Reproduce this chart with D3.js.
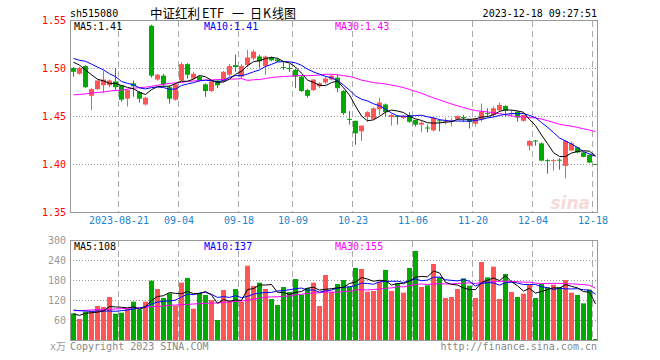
<!DOCTYPE html>
<html><head><meta charset="utf-8">
<script src="https://cdn.jsdelivr.net/npm/d3@7/dist/d3.min.js"></script>
<style>body{margin:0;background:#fff}text{font-family:"DejaVu Sans Mono",monospace}</style>
</head><body><svg id="c" width="660" height="360"></svg>
<script>
// ---------- data ----------
const dates = ["2023-08-09","2023-08-10","2023-08-11","2023-08-14","2023-08-15","2023-08-16","2023-08-17","2023-08-18","2023-08-21","2023-08-22","2023-08-23","2023-08-24","2023-08-25","2023-08-28","2023-08-29","2023-08-30","2023-08-31",
"2023-09-01","2023-09-04","2023-09-05","2023-09-06","2023-09-07","2023-09-08","2023-09-11","2023-09-12","2023-09-13","2023-09-14","2023-09-15","2023-09-18","2023-09-19","2023-09-20","2023-09-21","2023-09-22","2023-09-25","2023-09-26","2023-09-27","2023-09-28",
"2023-10-09","2023-10-10","2023-10-11","2023-10-12","2023-10-13","2023-10-16","2023-10-17","2023-10-18","2023-10-19","2023-10-20","2023-10-23","2023-10-24","2023-10-25","2023-10-26","2023-10-27","2023-10-30","2023-10-31",
"2023-11-01","2023-11-02","2023-11-03","2023-11-06","2023-11-07","2023-11-08","2023-11-09","2023-11-10","2023-11-13","2023-11-14","2023-11-15","2023-11-16","2023-11-17","2023-11-20","2023-11-21","2023-11-22","2023-11-23","2023-11-24","2023-11-27","2023-11-28","2023-11-29","2023-11-30",
"2023-12-01","2023-12-04","2023-12-05","2023-12-06","2023-12-07","2023-12-08","2023-12-11","2023-12-12","2023-12-13","2023-12-14","2023-12-15","2023-12-18"];
const open  = [1.500,1.494,1.502,1.471,1.478,1.482,1.482,1.486,1.482,1.468,1.484,1.475,1.462,1.544,1.488,1.492,1.480,1.467,1.487,1.504,1.489,1.491,1.483,1.476,1.487,1.486,1.493,1.503,1.491,1.503,1.510,1.512,1.502,1.511,1.509,1.501,1.500,1.498,1.491,1.477,1.477,1.481,1.485,1.488,1.490,1.476,1.447,1.445,1.434,1.449,1.447,1.457,1.462,1.449,1.450,1.448,1.451,1.446,1.441,1.438,1.435,1.4455,1.4445,1.4445,1.447,1.449,1.4465,1.442,1.4465,1.453,1.451,1.456,1.4605,1.4525,1.4545,1.445,1.419,1.4245,1.4215,1.404,1.4035,1.4045,1.398,1.414,1.4175,1.412,1.4095,1.400];
const high  = [1.501,1.501,1.503,1.479,1.487,1.497,1.488,1.500,1.482,1.478,1.487,1.476,1.470,1.545,1.494,1.494,1.482,1.484,1.506,1.505,1.496,1.492,1.484,1.486,1.487,1.497,1.504,1.514,1.504,1.519,1.519,1.514,1.513,1.512,1.510,1.507,1.504,1.499,1.492,1.478,1.488,1.485,1.491,1.493,1.493,1.477,1.455,1.445,1.440,1.455,1.459,1.469,1.463,1.452,1.451,1.451,1.454,1.446,1.445,1.441,1.449,1.4465,1.448,1.448,1.4505,1.451,1.447,1.448,1.463,1.458,1.460,1.464,1.461,1.4565,1.455,1.4515,1.425,1.425,1.4225,1.405,1.405,1.406,1.425,1.4235,1.418,1.4125,1.410,1.400];
const low   = [1.491,1.493,1.479,1.456,1.477,1.474,1.480,1.477,1.465,1.460,1.470,1.464,1.461,1.490,1.487,1.481,1.463,1.466,1.486,1.489,1.488,1.486,1.470,1.475,1.479,1.485,1.491,1.496,1.489,1.501,1.508,1.500,1.493,1.507,1.506,1.498,1.496,1.479,1.475,1.469,1.476,1.479,1.483,1.487,1.475,1.451,1.441,1.420,1.424,1.444,1.446,1.451,1.450,1.440,1.441,1.447,1.443,1.439,1.433,1.433,1.434,1.434,1.441,1.439,1.446,1.444,1.437,1.439,1.444,1.449,1.449,1.4545,1.449,1.449,1.444,1.444,1.414,1.419,1.403,1.390,1.393,1.394,1.385,1.4135,1.411,1.407,1.401,1.399];
const close = [1.496,1.500,1.480,1.478,1.487,1.488,1.487,1.480,1.467,1.477,1.481,1.468,1.469,1.492,1.493,1.483,1.468,1.483,1.504,1.493,1.494,1.487,1.476,1.486,1.482,1.496,1.502,1.501,1.502,1.511,1.517,1.507,1.512,1.508,1.507,1.500,1.499,1.491,1.476,1.471,1.488,1.484,1.489,1.492,1.479,1.453,1.446,1.432,1.440,1.454,1.458,1.464,1.454,1.451,1.449,1.450,1.444,1.441,1.443,1.437,1.448,1.445,1.445,1.445,1.450,1.4485,1.444,1.4475,1.4545,1.4525,1.458,1.4615,1.4555,1.453,1.4485,1.451,1.424,1.424,1.4035,1.4035,1.404,1.404,1.424,1.4215,1.412,1.4075,1.4015,1.3995];
const volume = [80,63,85,87,102,99,129,79,82,93,115,92,115,178,153,126,140,103,172,186,94,141,135,120,60,150,117,153,115,223,162,172,153,123,105,159,144,183,136,156,172,102,195,145,168,180,160,216,213,145,147,175,210,147,170,142,216,267,159,164,228,188,126,129,153,185,163,126,234,188,220,123,198,144,129,139,165,126,168,158,166,159,180,142,135,110,151,3];
const ma5Head  = [1.506,1.503,1.498,1.493];
const ma10Head = [1.510,1.508,1.507,1.504,1.501,1.498,1.494,1.491,1.486];
const ma30Head = [1.472,1.4725,1.473,1.474,1.4745,1.475,1.476,1.4765,1.477,1.478,1.479,1.4795,1.480,1.481,1.482,1.483,1.484,1.4845,1.485,1.486,1.4865,1.487,1.4875,1.4875,1.488,1.488,1.4885,1.4885,1.489];
const vma5Head  = [78,74,80,82];
const vma10Head = [90,88,87,86,87,87,87,86,88];
const vma30Head = [88,88,89,90,91,91,92,93,94,95,96,97,98,100,101,102,104,105,106,107,108,109,110,111,111,113,114,116,117];
const priceTicks = [1.55,1.50,1.45,1.40,1.35];
const volTicks = [300,240,180,120,60];
const dateTicks = ["2023-08-21","2023-09-04","2023-09-18","2023-10-09","2023-10-23","2023-11-06","2023-11-20","2023-12-04","2023-12-18"];

// ---------- helpers ----------
function ma(arr, n, head){
  return arr.map((v,i)=> i < n-1 ? head[i] : d3.mean(arr.slice(i-n+1,i+1)));
}
const N = close.length;
const RED = "#ff5555", GREEN = "#00aa00";

const svg = d3.select("#c");
const x = d3.scaleLinear().domain([0, N]).range([70, 70 + 6*N]);
const y = d3.scaleLinear().domain([1.35, 1.55]).range([212, 20]);
const yv = d3.scaleLinear().domain([0, 300]).range([340, 240]);
const L = 70, R = 597;

// header
svg.append("text").attr("x",70).attr("y",17).attr("font-size",10).attr("fill","#000").text("sh515080");
const cjk = '"Noto Sans CJK SC",sans-serif';
[["中证红利",150,50],["ETF",202,22],["一",232,12],["日",250,12],["K",263,8],["线图",272,24]].forEach(([t,xx,w])=>
  svg.append("text").attr("x",xx).attr("y",18).attr("font-size",13).attr("fill","#000")
    .attr("textLength",w).attr("lengthAdjust","spacingAndGlyphs")
    .style("font-family",cjk).text(t));
svg.append("text").attr("x",R).attr("y",17).attr("font-size",10).attr("text-anchor","end").attr("fill","#000").text("2023-12-18 09:27:51");

// grids
const tickIdx = dateTicks.map(d=>dates.indexOf(d));
function vgrid(top,bottom){
  svg.append("g").selectAll("line").data(tickIdx).join("line")
    .attr("x1",i=>x(i)+0.5).attr("x2",i=>x(i)+0.5).attr("y1",top).attr("y2",bottom)
    .attr("stroke","#aaa").attr("stroke-dasharray","6,4");
}
vgrid(21,212); vgrid(241,340);
svg.append("g").selectAll("line").data([1.50,1.45,1.40]).join("line")
  .attr("x1",L).attr("x2",R).attr("y1",d=>Math.round(y(d))+0.5).attr("y2",d=>Math.round(y(d))+0.5)
  .attr("stroke","#999").attr("stroke-dasharray","1,2");
svg.append("g").selectAll("line").data([240,180,120,60]).join("line")
  .attr("x1",L).attr("x2",R).attr("y1",d=>Math.round(yv(d))+0.5).attr("y2",d=>Math.round(yv(d))+0.5)
  .attr("stroke","#999").attr("stroke-dasharray","1,2");

// watermark
svg.append("text").attr("x",590).attr("y",209).attr("text-anchor","end").attr("font-size",17)
  .attr("font-style","italic").attr("font-weight","bold").style("font-family","DejaVu Sans,sans-serif")
  .attr("fill","#f6dada").text("sina");

// candles
const cg = svg.append("g");
const idx = d3.range(N);
const col = i => close[i] >= open[i] ? RED : GREEN;
cg.selectAll("line").data(idx).join("line")
  .attr("x1",i=>x(i)+3.5).attr("x2",i=>x(i)+3.5)
  .attr("y1",i=>y(high[i])).attr("y2",i=>y(low[i])).attr("stroke",col);
cg.selectAll("rect").data(idx).join("rect")
  .attr("x",i=>x(i)+1).attr("width",5)
  .attr("y",i=>y(Math.max(open[i],close[i])))
  .attr("height",i=>Math.max(1, Math.abs(y(open[i])-y(close[i]))))
  .attr("fill",col);

// price MAs
const cx = i => x(i)+3.5;
const lineP = d3.line().x((d,i)=>cx(i)).y(d=>y(d));
const pm5 = ma(close,5,ma5Head), pm10 = ma(close,10,ma10Head), pm30 = ma(close,30,ma30Head);
[[pm30,"#ff00ff"],[pm10,"#0000ff"],[pm5,"#000"]].forEach(([d,c])=>
  svg.append("path").attr("d",lineP(d)).attr("fill","none").attr("stroke",c).attr("stroke-width",1));

// volume bars
const vg = svg.append("g");
vg.selectAll("rect").data(idx).join("rect")
  .attr("x",i=>x(i)+1).attr("width",5)
  .attr("y",i=>yv(volume[i])).attr("height",i=>340-yv(volume[i])).attr("fill",col);
const lineV = d3.line().x((d,i)=>cx(i)).y(d=>yv(d));
const vm5 = ma(volume,5,vma5Head), vm10 = ma(volume,10,vma10Head), vm30 = ma(volume,30,vma30Head);
[[vm30,"#ff00ff"],[vm10,"#0000ff"],[vm5,"#000"]].forEach(([d,c])=>
  svg.append("path").attr("d",lineV(d)).attr("fill","none").attr("stroke",c).attr("stroke-width",1));

// frames
svg.append("rect").attr("x",L+0.5).attr("y",20.5).attr("width",R-L).attr("height",192).attr("fill","none").attr("stroke","#999");
svg.append("rect").attr("x",L+0.5).attr("y",240.5).attr("width",R-L).attr("height",100).attr("fill","none").attr("stroke","#999");

// axes
const ay = svg.append("g").attr("transform","translate(68,0)")
  .call(d3.axisLeft(y).tickValues(priceTicks).tickFormat(d3.format(".2f")).tickSize(0).tickPadding(2));
ay.select(".domain").remove();
ay.selectAll("text").attr("fill","#f00").attr("font-size",10).style("font-family",'"DejaVu Sans Mono",monospace');
const av = svg.append("g").attr("transform","translate(68,0)")
  .call(d3.axisLeft(yv).tickValues(volTicks).tickSize(0).tickPadding(2));
av.select(".domain").remove();
av.selectAll("text").attr("fill","#999").attr("font-size",10).style("font-family",'"DejaVu Sans Mono",monospace');
const ax = svg.append("g").attr("transform","translate(0.5,212)")
  .call(d3.axisBottom(x).tickValues(tickIdx).tickFormat(i=>i===tickIdx[0]?dates[i]:dates[i].slice(5)).tickSize(0).tickPadding(5));
ax.select(".domain").remove();
ax.selectAll("text").attr("fill","#1a84ce").attr("font-size",10).style("font-family",'"DejaVu Sans Mono",monospace');

// MA labels
const f2 = d3.format(".2f"), f0 = d3.format(".0f");
svg.append("text").attr("x",74).attr("y",30).attr("font-size",10).attr("fill","#000").text("MA5:"+f2(pm5[N-1]));
svg.append("text").attr("x",204).attr("y",30).attr("font-size",10).attr("fill","#0000ff").text("MA10:"+f2(pm10[N-1]));
svg.append("text").attr("x",335).attr("y",30).attr("font-size",10).attr("fill","#ff00ff").text("MA30:"+f2(pm30[N-1]));
svg.append("text").attr("x",74).attr("y",250).attr("font-size",10).attr("fill","#000").text("MA5:"+f0(vm5[N-1]));
svg.append("text").attr("x",204).attr("y",250).attr("font-size",10).attr("fill","#0000ff").text("MA10:"+f0(vm10[N-1]));
svg.append("text").attr("x",335).attr("y",250).attr("font-size",10).attr("fill","#ff00ff").text("MA30:"+f0(vm30[N-1]));

// footer
svg.append("text").attr("x",66).attr("y",350).attr("text-anchor","end").attr("font-size",10).attr("fill","#999")
  .text("x万").style("font-family",'"DejaVu Sans Mono","Noto Sans CJK SC",monospace');
svg.append("text").attr("x",70).attr("y",350).attr("font-size",10).attr("fill","#888").text("Copyright 2023 SINA.COM");
svg.append("text").attr("x",R).attr("y",350).attr("text-anchor","end").attr("font-size",10).attr("fill","#888").text("http://finance.sina.com.cn");
</script></body></html>
